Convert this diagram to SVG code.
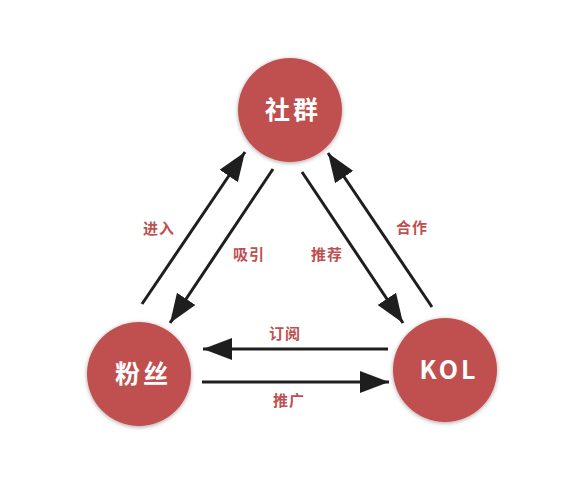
<svg xmlns="http://www.w3.org/2000/svg" width="577" height="500" viewBox="0 0 577 500">
<style>
.node circle{fill:#c0504f;filter:url(#sh)}
.nt{fill:#ffffff;font-family:"Noto Sans CJK SC","Liberation Sans",sans-serif;font-weight:bold;font-size:25px;text-anchor:middle;dominant-baseline:central;letter-spacing:3px}
.lbl{fill:#c0504f;font-family:"Noto Sans CJK SC","Liberation Sans",sans-serif;font-weight:bold;font-size:15px;text-anchor:middle;dominant-baseline:central;letter-spacing:1px}
.conn line{stroke:#1e1e1e;stroke-width:3;marker-end:url(#ah)}
</style>
<defs>
<filter id="sh" x="-20%" y="-20%" width="140%" height="140%">
<feDropShadow dx="0" dy="1" stdDeviation="2" flood-color="#000" flood-opacity="0.35"/>
</filter>
<marker id="ah" markerUnits="userSpaceOnUse" markerWidth="30" markerHeight="22" refX="29" refY="11" orient="auto">
<path d="M0,0 L29,11 L0,22 Z" fill="#1e1e1e"/>
</marker>
</defs>
<rect width="577" height="500" fill="#ffffff"/>
<g id="connectors" class="conn">
<line x1="142" y1="304" x2="245" y2="152"/>
<line x1="273" y1="169" x2="170" y2="323"/>
<line x1="302" y1="172" x2="403" y2="323"/>
<line x1="432" y1="307" x2="328" y2="153"/>
<line x1="388" y1="349" x2="203" y2="349"/>
<line x1="202" y1="382" x2="389" y2="382"/>
</g>
<g id="labels">
<text class="lbl" x="159" y="227">进入</text>
<text class="lbl" x="249" y="253">吸引</text>
<text class="lbl" x="327" y="253">推荐</text>
<text class="lbl" x="412" y="226">合作</text>
<text class="lbl" x="285" y="332">订阅</text>
<text class="lbl" x="289" y="399">推广</text>
</g>
<g id="node-shequn" class="node">
<circle cx="290" cy="110" r="52"/>
<text class="nt" x="293" y="108">社群</text>
</g>
<g id="node-fensi" class="node">
<circle cx="139" cy="374" r="52"/>
<text class="nt" x="143" y="372">粉丝</text>
</g>
<g id="node-kol" class="node">
<circle cx="445" cy="370" r="52"/>
<text class="nt" x="449" y="368">KOL</text>
</g>
</svg>
